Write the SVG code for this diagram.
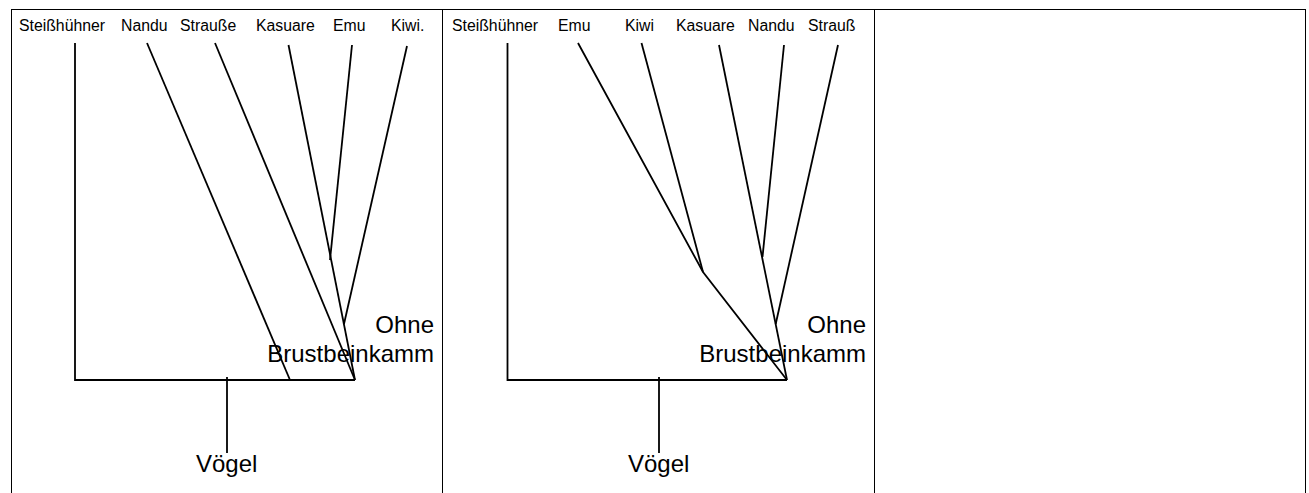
<svg xmlns="http://www.w3.org/2000/svg" width="1309" height="493" viewBox="0 0 1309 493">
<style>
.frame{fill:none;stroke:#000;stroke-width:1}
.br{fill:none;stroke:#000;stroke-width:1.8;stroke-linecap:butt}
.lbl{font-family:"Liberation Sans",Arial,sans-serif;font-size:15.8px;fill:#000}
.big{font-family:"Liberation Sans",Arial,sans-serif;font-size:24px;fill:#000}
</style>
<rect width="1309" height="493" fill="#fff"/>
<g id="frame">
<rect class="frame" x="11.5" y="9.5" width="1294" height="490"/>
<line class="frame" x1="442.5" y1="9.5" x2="442.5" y2="493"/>
<line class="frame" x1="874.5" y1="9.5" x2="874.5" y2="493"/>
</g>
<g id="connectors">
<path class="br" d="M75,43 V380 H355"/>
<path class="br" d="M227,377 V453"/>
<path class="br" d="M147,43 L290,380"/>
<path class="br" d="M215,43 L355,380"/>
<path class="br" d="M288.5,45 L355,380"/>
<path class="br" d="M352,45 L330,260"/>
<path class="br" d="M407,46 L344,324"/>
<path class="br" d="M507.5,43 V380 H787"/>
<path class="br" d="M659,377 V453"/>
<path class="br" d="M578,43 L703,272 L787,380"/>
<path class="br" d="M641.5,43 L703,272"/>
<path class="br" d="M719,45 L787,380"/>
<path class="br" d="M784,45 L762.5,257"/>
<path class="br" d="M838,45 L775.7,324"/>
</g>
<g id="tree-left">
<text class="lbl" x="19" y="31">Steißhühner</text>
<text class="lbl" x="121" y="31">Nandu</text>
<text class="lbl" x="180" y="31">Strauße</text>
<text class="lbl" x="256" y="31">Kasuare</text>
<text class="lbl" x="333" y="31">Emu</text>
<text class="lbl" x="391" y="31">Kiwi.</text>
<text class="big" x="434" y="333" text-anchor="end">Ohne</text>
<text class="big" x="434" y="362" text-anchor="end">Brustbeinkamm</text>
<text class="big" x="196" y="472">Vögel</text>
</g>
<g id="tree-right">
<text class="lbl" x="452" y="31">Steißhühner</text>
<text class="lbl" x="558" y="31">Emu</text>
<text class="lbl" x="625" y="31">Kiwi</text>
<text class="lbl" x="676" y="31">Kasuare</text>
<text class="lbl" x="748" y="31">Nandu</text>
<text class="lbl" x="808" y="31">Strauß</text>
<text class="big" x="866" y="333" text-anchor="end">Ohne</text>
<text class="big" x="866" y="362" text-anchor="end">Brustbeinkamm</text>
<text class="big" x="628" y="472">Vögel</text>
</g>
</svg>
